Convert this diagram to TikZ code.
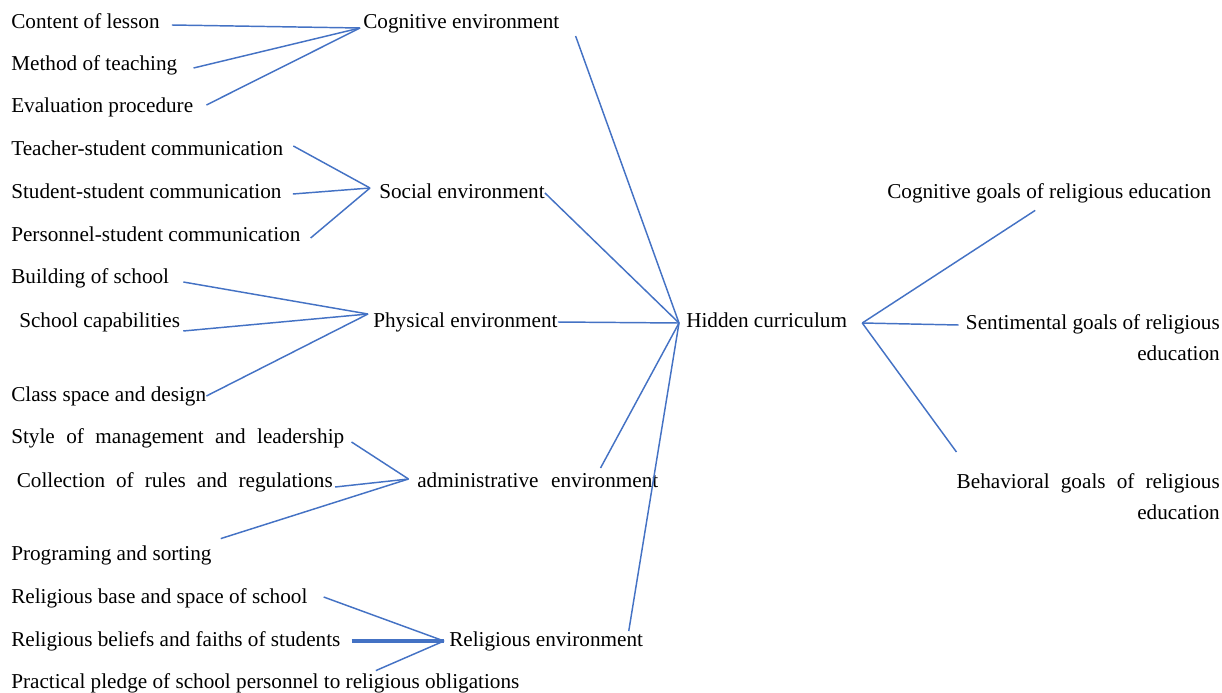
\documentclass[tikz,border=0pt]{standalone}
\usepackage{fontspec}
\setmainfont{Liberation Serif}
\usetikzlibrary{calc,positioning}
\definecolor{cLink}{RGB}{68,114,196}
\tikzset{
  lbl/.style={inner sep=0pt, anchor=west, text height=0.85em, text depth=0.07em},
  link/.style={cLink, line width=1.1pt},
}

\begin{document}
\begin{tikzpicture}[x=0.75pt,y=-0.75pt,font=\fontsize{15.9}{23.25}\selectfont]
  \useasboundingbox (0,0) rectangle (1222,693);
  % centre
  \node[lbl] (hidden) at (686,322) {Hidden curriculum};
  \coordinate (hcL) at ($(hidden.west)+(-7,1)$);
  \coordinate (hcR) at ($(hidden.east)+(15,1)$);
  % environments
  \node[lbl] (cog)    at (363,23)  {Cognitive environment};
  \node[lbl] (social) at (379,193) {Social environment};
  \node[lbl] (phys)   at (373,322) {Physical environment};
  \node[lbl] (admin)  at (417,482) {\makebox[180.75pt][s]{administrative environment}};
  \node[lbl] (relig)  at (449,641) {Religious environment};
  \coordinate (cogA) at ($(cog.west)+(-3,5)$);
  \coordinate (socA) at ($(social.west)+(-9,-5)$);
  \coordinate (phyA) at ($(phys.west)+(-5,-8)$);
  \coordinate (admA) at ($(admin.west)+(-8.5,-3)$);
  \coordinate (relA) at ($(relig.west)+(-5,0)$);
  % leaves
  \node[lbl] (content) at (11,23)  {Content of lesson};
  \node[lbl] (method)  at (11,65)  {Method of teaching};
  \node[lbl] (evalp)   at (11,107) {Evaluation procedure};
  \node[lbl] (teach)   at (11,150) {Teacher-student communication};
  \node[lbl] (stud)    at (11,193) {Student-student communication};
  \node[lbl] (pers)    at (11,236) {Personnel-student communication};
  \node[lbl] (build)   at (11,278) {Building of school};
  \node[lbl] (capab)   at (19,322) {School capabilities};
  \node[lbl] (cls)     at (11,396) {Class space and design};
  \node[lbl] (style)   at (11,438) {\makebox[249.75pt][s]{Style of management and leadership}};
  \node[lbl] (coll)    at (16.5,482) {\makebox[237pt][s]{Collection of rules and regulations}};
  \node[lbl] (prog)    at (11,555) {Programing and sorting};
  \node[lbl] (rbase)   at (11,598) {Religious base and space of school};
  \node[lbl] (rbel)    at (11,641) {Religious beliefs and faiths of students};
  \node[lbl] (pledge)  at (11,683) {Practical pledge of school personnel to religious obligations};
  % goals
  \node[lbl] (cgoal) at (887,193) {Cognitive goals of religious education};
  \node[inner sep=0pt, anchor=north east, align=right] (sgoal) at (1220,314.5)
    {Sentimental goals of religious\\education};
  \node[inner sep=0pt, anchor=north east, align=right] (bgoal) at (1220,473.5)
    {\makebox[197.25pt][s]{Behavioral goals of religious}\\education};
  % leaves to environments
  \draw[link] ($(content.east)+(12,2)$) -- (cogA);
  \draw[link] ($(method.east)+(16,3)$) -- (cogA);
  \draw[link] ($(evalp.east)+(13,-2)$) -- (cogA);
  \draw[link] ($(teach.east)+(10,-4)$) -- (socA);
  \draw[link] ($(stud.east)+(11,1)$) -- (socA);
  \draw[link] ($(pers.east)+(10,2)$) -- (socA);
  \draw[link] ($(build.east)+(14,4)$) -- (phyA);
  \draw[link] ($(capab.east)+(3,9)$) -- (phyA);
  \draw[link] (cls.east) -- (phyA);
  \draw[link] ($(style.east)+(7,4)$) -- (admA);
  \draw[link] ($(coll.east)+(2,5)$) -- (admA);
  \draw[link] ($(prog.north east)+(9,-10)$) -- (admA);
  \draw[link] ($(rbase.east)+(16,-1)$) -- (relA);
  \draw[link,line width=2.4pt] ($(rbel.east)+(11,0)$) -- (relA);
  \draw[link] ($(pledge.north)+(110.5,-6)$) -- (relA);
  % environments to centre
  \draw[link] ($(cog.east)+(16,13)$) -- (hcL);
  \draw[link] (social.east) -- (hcL);
  \draw[link] (phys.east) -- (hcL);
  \draw[link] ($(admin.east)+(-58,-14)$) -- (hcL);
  \draw[link] ($(relig.east)+(-14.5,-10)$) -- (hcL);
  % centre to goals
  \draw[link] (hcR) -- ($(cgoal.south)+(-14,11)$);
  \draw[link] (hcR) -- ($(sgoal.north west)+(-7,10.5)$);
  \draw[link] (hcR) -- ($(bgoal.north west)+(0,-21.5)$);
\end{tikzpicture}
\end{document}
